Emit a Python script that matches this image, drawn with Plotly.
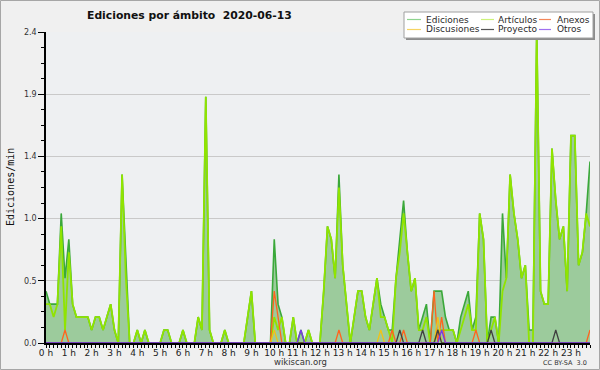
import plotly.graph_objects as go

# ---------------- data (10-minute bins, edits per minute) ----------------
time_h = [i / 6 for i in range(144)]

ediciones = [
    0.4, 0.3, 0.3, 0.3, 1.0, 0.5,
    0.8, 0.3, 0.2, 0.2, 0.2, 0.2,
    0.1, 0.2, 0.2, 0.1, 0.2, 0.3,
    0.1, 0.0, 1.3, 0.6, 0.0, 0.0,
    0.1, 0.0, 0.1, 0.0, 0.0, 0.0,
    0.0, 0.1, 0.1, 0.0, 0.0, 0.0,
    0.1, 0.0, 0.0, 0.0, 0.2, 0.1,
    1.9, 0.1, 0.0, 0.0, 0.0, 0.1,
    0.0, 0.0, 0.0, 0.0, 0.0, 0.2,
    0.4, 0.0, 0.0, 0.0, 0.0, 0.0,
    0.8, 0.3, 0.2, 0.0, 0.0, 0.2,
    0.0, 0.1, 0.0, 0.1, 0.0, 0.0,
    0.0, 0.4, 0.9, 0.8, 0.5, 1.3,
    0.6, 0.3, 0.0, 0.2, 0.4, 0.4,
    0.2, 0.1, 0.3, 0.5, 0.3, 0.2,
    0.1, 0.1, 0.5, 0.8, 1.1, 0.7,
    0.4, 0.5, 0.1, 0.2, 0.3, 0.0,
    0.4, 0.4, 0.4, 0.2, 0.1, 0.1,
    0.0, 0.2, 0.3, 0.4, 0.1, 0.2,
    1.0, 0.8, 0.0, 0.2, 0.2, 0.0,
    1.0, 0.5, 1.3, 1.0, 0.8, 0.5,
    0.6, 0.1, 0.1, 2.4, 0.4, 0.3,
    0.3, 1.5, 1.1, 0.8, 0.9, 0.4,
    1.6, 1.6, 0.6, 0.7, 1.0, 1.4,
]

articulos = [
    0.3, 0.3, 0.2, 0.3, 0.9, 0.1,
    0.7, 0.3, 0.2, 0.2, 0.2, 0.2,
    0.1, 0.2, 0.2, 0.1, 0.2, 0.3,
    0.1, 0.0, 1.3, 0.5, 0.0, 0.0,
    0.1, 0.0, 0.1, 0.0, 0.0, 0.0,
    0.0, 0.1, 0.1, 0.0, 0.0, 0.0,
    0.1, 0.0, 0.0, 0.0, 0.2, 0.1,
    1.9, 0.1, 0.0, 0.0, 0.0, 0.1,
    0.0, 0.0, 0.0, 0.0, 0.0, 0.2,
    0.4, 0.0, 0.0, 0.0, 0.0, 0.0,
    0.2, 0.1, 0.2, 0.0, 0.0, 0.2,
    0.0, 0.0, 0.0, 0.1, 0.0, 0.0,
    0.0, 0.4, 0.9, 0.8, 0.5, 1.2,
    0.6, 0.3, 0.0, 0.2, 0.4, 0.4,
    0.2, 0.1, 0.3, 0.5, 0.2, 0.2,
    0.1, 0.0, 0.5, 0.7, 1.0, 0.7,
    0.4, 0.5, 0.1, 0.1, 0.2, 0.0,
    0.0, 0.1, 0.1, 0.1, 0.1, 0.1,
    0.0, 0.1, 0.2, 0.3, 0.1, 0.1,
    1.0, 0.8, 0.0, 0.1, 0.2, 0.0,
    0.4, 0.5, 1.3, 1.0, 0.8, 0.5,
    0.6, 0.0, 0.0, 2.4, 0.4, 0.3,
    0.3, 1.5, 1.1, 0.8, 0.9, 0.4,
    1.6, 1.6, 0.6, 0.7, 1.0, 0.9,
]

anexos = [0.0] * 144
for i, v in [(5, 0.1), (60, 0.4), (61, 0.2), (77, 0.1), (91, 0.1), (94, 0.1),
             (102, 0.4), (104, 0.2), (113, 0.1), (143, 0.1)]:
    anexos[i] = v

discusiones = [0.0] * 144
for i, v in [(60, 0.1), (88, 0.1), (103, 0.2)]:
    discusiones[i] = v

proyecto = [0.0] * 144
for i, v in [(93, 0.1), (99, 0.1), (103, 0.1), (117, 0.1), (134, 0.1)]:
    proyecto[i] = v

otros = [0.0] * 144
for i, v in [(67, 0.1), (104, 0.1)]:
    otros[i] = v

hour_ticks = list(range(24))
hour_labels = [f"{h} h" for h in hour_ticks]
y_ticks = [0, 0.48, 0.96, 1.44, 1.92, 2.4]
y_labels = ["0.0", "0.5", "1.0", "1.4", "1.9", "2.4"]

series_names = ["Ediciones", "Artículos", "Anexos", "Discusiones", "Proyecto", "Otros"]
title_text = "Ediciones por ámbito  2020-06-13"

# ---------------- layout geometry ----------------
W, H = 600, 370
L, R, T, B = 46, 10, 32, 27
PW, PH = W - L - R, H - T - B


def px(x):
    return (x - L) / PW


def py(y):
    return (H - B - y) / PH


line_colors = {
    "Ediciones": "#3aa83a",
    "Artículos": "#90e400",
    "Anexos": "#ff641e",
    "Discusiones": "#f0c218",
    "Proyecto": "#404040",
    "Otros": "#7a38e6",
}
swatch_colors = {
    "Ediciones": "#8fd48f",
    "Artículos": "#cdf27a",
    "Anexos": "#f4875a",
    "Discusiones": "#f6d463",
    "Proyecto": "#555555",
    "Otros": "#a070f0",
}

fig = go.Figure()
fig.add_trace(go.Scatter(x=time_h, y=ediciones, mode="lines", fill="tozeroy",
                         fillcolor="#9ccb9c", line=dict(color=line_colors["Ediciones"], width=1.6),
                         name="Ediciones", showlegend=False))
fig.add_trace(go.Scatter(x=time_h, y=articulos, mode="lines",
                         line=dict(color=line_colors["Artículos"], width=1.8),
                         name="Artículos", showlegend=False))
for nm, arr in [("Anexos", anexos), ("Discusiones", discusiones),
                ("Proyecto", proyecto), ("Otros", otros)]:
    fig.add_trace(go.Scatter(x=time_h, y=arr, mode="lines",
                             line=dict(color=line_colors[nm], width=1.3),
                             name=nm, showlegend=False))

shapes = []
annotations = []

# outer border
shapes.append(dict(type="rect", xref="paper", yref="paper",
                   x0=px(0.5), x1=px(W - 0.5), y0=py(H - 0.5), y1=py(0.5),
                   line=dict(color="#a6a6a6", width=1), fillcolor="rgba(0,0,0,0)", layer="below"))

# legend box with shadow
lx0, lx1, ly0, ly1 = 404, 593, 12, 38
shapes.append(dict(type="rect", xref="paper", yref="paper",
                   x0=px(lx0 + 2), x1=px(lx1 + 2), y0=py(ly1 + 2), y1=py(ly0 + 2),
                   line=dict(width=0), fillcolor="#8c8c8c"))
shapes.append(dict(type="rect", xref="paper", yref="paper",
                   x0=px(lx0), x1=px(lx1), y0=py(ly1), y1=py(ly0),
                   line=dict(color="#a0a0a0", width=1), fillcolor="#ffffff"))

col_sw = [(407, 421, 424), (481, 494, 496), (539, 551, 555)]
row_y = [19.5, 29.5]
for k, nm in enumerate(series_names):
    r, c = divmod(k, 3)
    sx0, sx1, tx = col_sw[c]
    yy = row_y[r]
    shapes.append(dict(type="line", xref="paper", yref="paper",
                       x0=px(sx0), x1=px(sx1), y0=py(yy), y1=py(yy),
                       line=dict(color=swatch_colors[nm], width=1.2)))
    annotations.append(dict(text=nm, xref="paper", yref="paper", x=px(tx), y=py(yy),
                            xanchor="left", yanchor="middle", showarrow=False,
                            font=dict(family="DejaVu Sans", size=9, color="#2a2a2a")))

# title
annotations.append(dict(text=f"<b>{title_text}</b>", xref="paper", yref="paper",
                        x=px(85), y=py(15), xanchor="left", yanchor="middle", showarrow=False,
                        font=dict(family="DejaVu Sans", size=10.8, color="#111111")))
# y axis title
annotations.append(dict(text="Ediciones/min", xref="paper", yref="paper",
                        x=px(10), y=py(187), xanchor="center", yanchor="middle", textangle=-90,
                        showarrow=False,
                        font=dict(family="DejaVu Sans Mono", size=10, color="#111111")))
# footer
annotations.append(dict(text="wikiscan.org", xref="paper", yref="paper",
                        x=px(300), y=py(362), xanchor="center", yanchor="middle", showarrow=False,
                        font=dict(family="DejaVu Sans", size=8.5, color="#333333")))
annotations.append(dict(text="CC BY-SA  3.0", xref="paper", yref="paper",
                        x=px(589), y=py(363), xanchor="right", yanchor="middle", showarrow=False,
                        font=dict(family="DejaVu Sans", size=6.5, color="#333333")))

fig.update_layout(
    width=W, height=H,
    margin=dict(l=L, r=R, t=T, b=B, pad=0),
    paper_bgcolor="#f0f0f0",
    plot_bgcolor="#eef0f2",
    showlegend=False,
    shapes=shapes,
    annotations=annotations,
    xaxis=dict(range=[0, 143 / 6], tickmode="array", tickvals=hour_ticks, ticktext=hour_labels,
               ticks="outside", ticklen=3, tickcolor="#000000", tickwidth=1,
               ticklabelstandoff=-3,
               showline=True, linecolor="#000000", linewidth=1.5, showgrid=False, zeroline=False,
               tickfont=dict(family="DejaVu Sans", size=9, color="#222222"),
               minor=dict(tickmode="linear", tick0=0, dtick=1 / 6, ticks="outside", ticklen=3,
                          tickcolor="#000000", showgrid=False)),
    yaxis=dict(range=[0, 2.4], tickmode="array", tickvals=y_ticks, ticktext=y_labels,
               ticks="outside", ticklen=6, tickcolor="#000000", tickwidth=1,
               showline=True, linecolor="#000000", linewidth=1.5,
               showgrid=True, gridcolor="#c9c9c9", gridwidth=1, zeroline=False,
               tickfont=dict(family="DejaVu Sans", size=8, color="#333333"),
               minor=dict(tickmode="linear", tick0=0, dtick=0.12, ticks="outside", ticklen=3,
                          tickcolor="#000000", showgrid=False)),
)

fig.write_html(
    "out.html",
    config={"displayModeBar": False},
    post_script="document.body.style.margin='0';document.body.style.padding='0';"
                "document.body.style.background='#f0f0f0';",
)
